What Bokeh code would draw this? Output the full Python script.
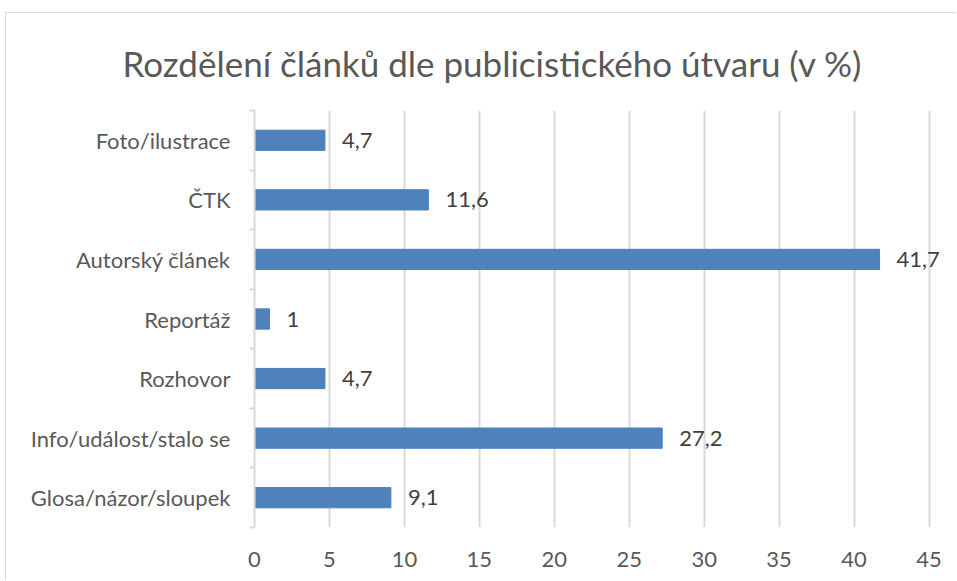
from bokeh.plotting import figure
from bokeh.models import Range1d, FixedTicker, ColumnDataSource
from bokeh.core.properties import value
from bokeh.embed import file_html
from bokeh.resources import INLINE

# Data (bottom to top)
categories = ["Glosa/názor/sloupek", "Info/událost/stalo se", "Rozhovor", "Reportáž",
              "Autorský článek", "ČTK", "Foto/ilustrace"]
values = [9.1, 27.2, 4.7, 1.0, 41.7, 11.6, 4.7]
x_ticks = [0, 5, 10, 15, 20, 25, 30, 35, 40, 45]
title_text = "Rozdělení článků dle publicistického útvaru (v %)"

FONT = "Lato"
positions = list(range(len(categories)))
labels = [f"{v:g}".replace(".", ",") for v in values]
src = ColumnDataSource(dict(y=positions, v=values, lab=labels))

p = figure(width=951, height=568, output_backend="svg", toolbar_location=None,
           x_range=Range1d(0, 46.5), y_range=Range1d(-0.5, len(categories) - 0.5),
           min_border_left=248, min_border_right=6, min_border_top=97, min_border_bottom=54,
           margin=(12, 0, 0, 5),
           styles={"border-top": "1px solid #d9d9d9", "border-left": "1px solid #d9d9d9"})

p.title.text = title_text
p.title.text_font = FONT
p.title.text_font_size = "35px"
p.title.text_font_style = "normal"
p.title.text_color = "#595959"
p.title.align = "left"
p.title.offset = -132
p.title.vertical_align = "bottom"
p.title.standoff = 53

p.outline_line_color = None
p.background_fill_color = "white"
p.border_fill_color = "white"

p.hbar(y="y", right="v", height=0.34, left=0, source=src,
       fill_color="#4F81BD", line_color="#4F81BD")
p.text(x="v", y="y", text="lab", source=src, x_offset=17, text_baseline="middle",
       text_align="left", text_font=value(FONT), text_font_size="22px", text_color="#404040")

# x axis
xa = p.xaxis[0]
xa.ticker = FixedTicker(ticks=x_ticks)
xa.axis_line_color = None
xa.major_tick_line_color = None
xa.minor_tick_line_color = None
xa.major_label_text_font = FONT
xa.major_label_text_font_size = "22px"
xa.major_label_text_color = "#595959"
xa.major_label_standoff = 18

# y axis
ya = p.yaxis[0]
ya.ticker = FixedTicker(ticks=positions,
                        minor_ticks=[i - 0.5 for i in range(len(categories) + 1)])
ya.major_label_overrides = {i: c for i, c in enumerate(categories)}
ya.axis_line_color = "#d9d9d9"
ya.axis_line_width = 2
ya.major_tick_line_color = None
ya.minor_tick_line_color = "#d9d9d9"
ya.minor_tick_line_width = 2
ya.minor_tick_out = 5
ya.minor_tick_in = 0
ya.major_label_text_font = FONT
ya.major_label_text_font_size = "22px"
ya.major_label_text_color = "#595959"
ya.major_label_standoff = 18

p.xgrid.ticker = FixedTicker(ticks=x_ticks)
p.xgrid.grid_line_color = "#d9d9d9"
p.xgrid.grid_line_width = 2
p.ygrid.grid_line_color = None

open("out.html", "w").write(file_html(p, INLINE))
